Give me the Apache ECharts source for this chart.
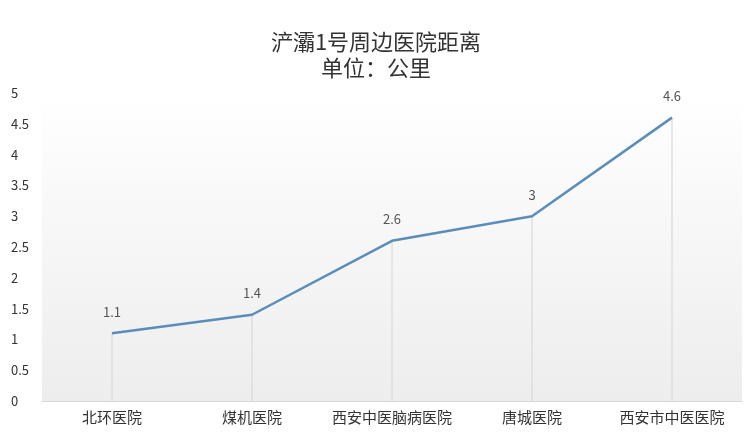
<!DOCTYPE html>
<html><head><meta charset="utf-8">
<script src="https://cdn.jsdelivr.net/npm/echarts@6/dist/echarts.min.js"></script>
<style>html,body{margin:0;padding:0;background:#fff}#c{width:752px;height:437px}</style>
</head><body><div id="c"></div>
<script>
var categories = ['北环医院','煤机医院','西安中医脑病医院','唐城医院','西安市中医医院'];
var distances = [1.1, 1.4, 2.6, 3, 4.6];
var titleLines = ['浐灞1号周边医院距离','单位：公里'];
var font = '"Noto Sans CJK SC", "Microsoft YaHei", sans-serif';
var chart = echarts.init(document.getElementById('c'));
chart.setOption({
  backgroundColor: '#fff',
  animation: false,
  title: {
    text: titleLines.join('\n'),
    left: 'center', top: 24,
    textStyle: {fontFamily: font, fontSize: 22, fontWeight: 'normal', color: '#333', lineHeight: 26}
  },
  grid: {
    left: 42, right: 10, top: 93, bottom: 36, show: true, borderWidth: 0,
    backgroundColor: new echarts.graphic.LinearGradient(0,0,0,1,[{offset:0,color:'#ffffff'},{offset:1,color:'#ededed'}])
  },
  xAxis: {
    type: 'category', data: categories, boundaryGap: true,
    axisLine: {lineStyle: {color: '#d9d9d9', width: 1}},
    axisTick: {show: false},
    axisLabel: {fontFamily: font, fontSize: 15, color: '#333', margin: 9, interval: 0}
  },
  yAxis: {
    type: 'value', min: 0, max: 5, interval: 0.5,
    axisLine: {show: false}, axisTick: {show: false},
    splitLine: {show: false},
    axisLabel: {fontFamily: font, fontSize: 13, color: '#333', align: 'left', margin: 31}
  },
  series: [
    {
      type: 'bar', data: distances, barWidth: 1, silent: true,
      itemStyle: {color: '#d4d4d4'},
      label: {show: true, position: 'top', distance: 15, fontFamily: font, fontSize: 13, color: '#555'}
    },
    {
      type: 'line', data: distances, showSymbol: false, symbol: 'none',
      lineStyle: {color: '#5a8db9', width: 2.5},
      z: 3
    }
  ]
});
</script></body></html>
